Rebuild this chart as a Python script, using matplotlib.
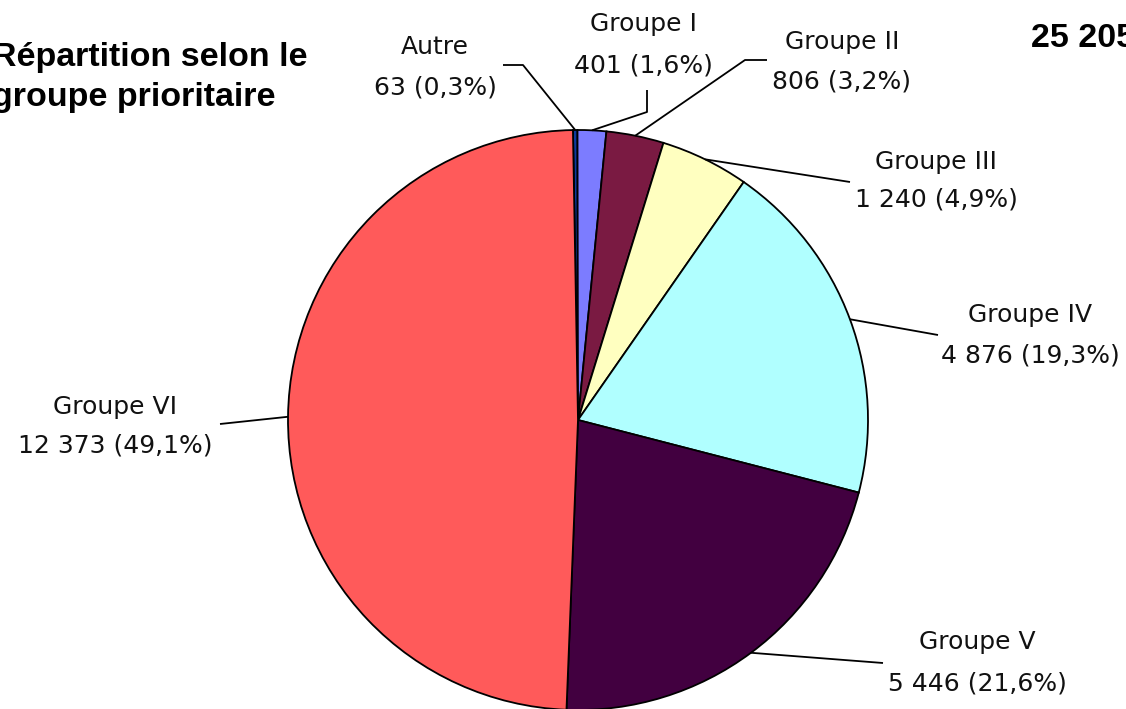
import numpy as np
import matplotlib
matplotlib.use("Agg")
import matplotlib.pyplot as plt

W, H = 1126, 709

groups = ["Autre", "Groupe I", "Groupe II", "Groupe III",
          "Groupe IV", "Groupe V", "Groupe VI"]
counts = [63, 401, 806, 1240, 4876, 5446, 12373]
pcts = [0.3, 1.6, 3.2, 4.9, 19.3, 21.6, 49.1]
total_label = "25 205"
title = "Répartition selon le\ngroupe prioritaire"

colors = ["#0E3A9E", "#7C7CFF", "#7A1A42", "#FFFFC0",
          "#B0FFFF", "#420040", "#FF5A5A"]

# label layout in image pixels: (x centre, baseline line 1, baseline line 2)
label_pos = [(435, 54, 94), (643, 31, 72), (842, 49, 89), (936, 169, 207),
             (1030, 322, 362), (977, 649, 691), (115, 414, 452)]
# leader line points on the text side (pixels), wedge end is computed
leader_pts = [[(503, 65), (523, 65)], [(647, 90), (647, 112)],
              [(767, 60), (745, 60)], [(850, 182)], [(938, 335)],
              [(883, 663)], [(220, 424)]]

CX, CY, R = 578, 420, 290


def fmt(n):
    return f"{n:,}".replace(",", " ")


fig = plt.figure(figsize=(W / 100, H / 100), dpi=100)
ax = fig.add_axes([0, 0, 1, 1])

wedges, _ = ax.pie(counts, colors=colors, startangle=91, counterclock=False,
                   center=(CX, H - CY), radius=R, frame=True,
                   wedgeprops=dict(edgecolor="black", linewidth=1.3))
ax.set_xlim(0, W)
ax.set_ylim(0, H)
ax.set_aspect("equal")
ax.axis("off")

lab_font = dict(family="DejaVu Sans", fontsize=18, color="#111111")
for w, g, n, p, (lx, b1, b2), pts in zip(wedges, groups, counts, pcts,
                                          label_pos, leader_pts):
    ax.text(lx, H - b1, g, ha="center", va="baseline", **lab_font)
    ax.text(lx, H - b2, f"{fmt(n)} ({str(p).replace('.', ',')}%)",
            ha="center", va="baseline", **lab_font)
    mid = np.deg2rad((w.theta1 + w.theta2) / 2)
    ex = CX + R * np.cos(mid)
    ey = (H - CY) + R * np.sin(mid)
    xs = [q[0] for q in pts] + [ex]
    ys = [H - q[1] for q in pts] + [ey]
    ax.plot(xs, ys, color="black", linewidth=1.3, solid_capstyle="butt")

# the title and total sit partly outside the frame, as in the original
ax.text(-8, H - 66, title.split("\n")[0], ha="left", va="baseline",
        family="Liberation Sans", fontweight="bold", fontsize=24.5)
ax.text(-8, H - 106, title.split("\n")[1], ha="left", va="baseline",
        family="Liberation Sans", fontweight="bold", fontsize=24.5)
ax.text(1031, H - 47, total_label, ha="left", va="baseline",
        family="Liberation Sans", fontweight="bold", fontsize=24.5)

fig.savefig("out.png", dpi=100)
